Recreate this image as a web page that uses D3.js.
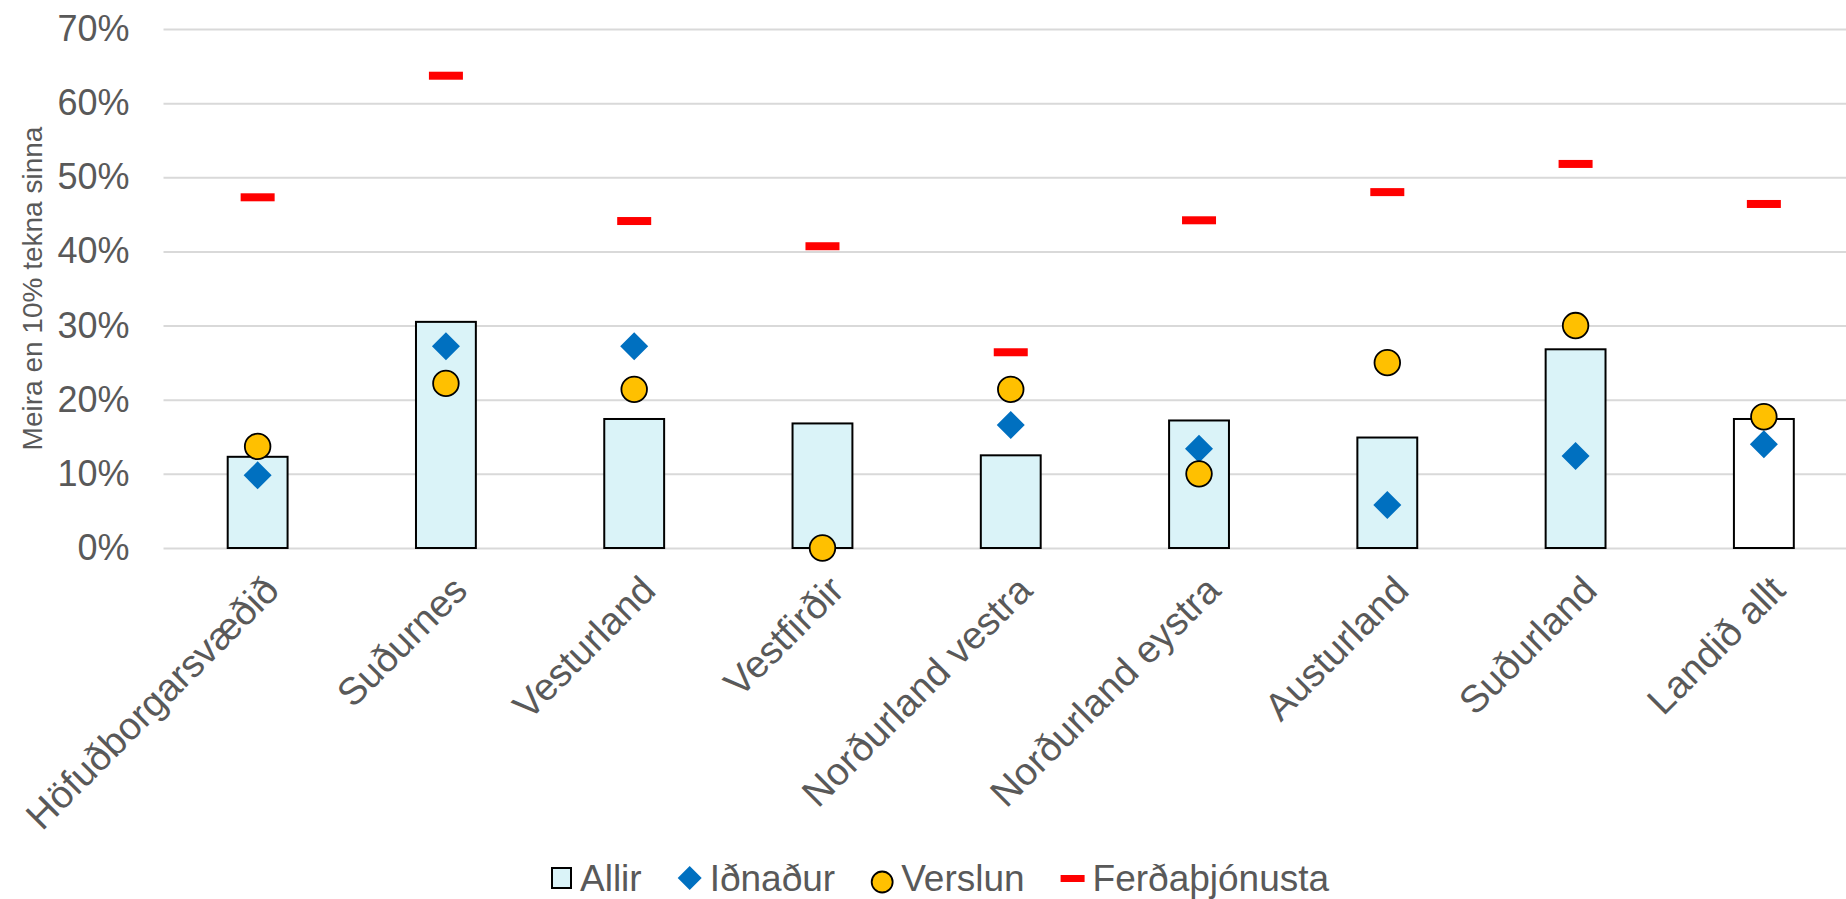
<!DOCTYPE html>
<html>
<head>
<meta charset="utf-8">
<script src="https://cdn.jsdelivr.net/npm/d3@7"></script>
<style>
body { margin: 0; background: #fff; }
text { font-family: "Liberation Sans", Arial, sans-serif; fill: #595959; }
</style>
</head>
<body>
<div id="chart"></div>
<script>
var categories = ["Höfuðborgarsvæðið", "Suðurnes", "Vesturland", "Vestfirðir", "Norðurland vestra",
                  "Norðurland eystra", "Austurland", "Suðurland", "Landið allt"];
var allir   = [12.3, 30.5, 17.4, 16.8, 12.5, 17.2, 14.9, 26.8, 17.4];
var idnadur = [9.8, 27.2, 27.2, null, 16.6, 13.4, 5.8, 12.4, 14.0];
var verslun = [13.7, 22.2, 21.4, 0, 21.4, 10.0, 25.0, 30.0, 17.7];
var ferda   = [47.3, 63.7, 44.1, 40.7, 26.4, 44.2, 48.0, 51.8, 46.4];
var yTicks  = [0, 10, 20, 30, 40, 50, 60, 70];
var seriesNames = ["Allir", "Iðnaður", "Verslun", "Ferðaþjónusta"];

var width = 1846, height = 899;
var plotLeft = 163.5, plotRight = 1858, plotTop = 29, plotBottom = 548;

var svg = d3.select("#chart").append("svg")
  .attr("width", width).attr("height", height);

var x = d3.scaleBand().domain(categories).range([plotLeft, plotRight]);
var y = d3.scaleLinear().domain([0, 70]).range([plotBottom, plotTop]);
var cx = function(i) { return x(categories[i]) + x.bandwidth() / 2; };

// gridlines
svg.append("g")
  .attr("transform", "translate(" + plotLeft + ",0)")
  .call(d3.axisLeft(y).tickValues(yTicks).tickSize(-(plotRight - plotLeft)).tickFormat(""))
  .call(function(g) {
    g.select(".domain").remove();
    g.selectAll("line").attr("stroke", "#d9d9d9").attr("stroke-width", 2);
  });

// y labels
svg.append("g")
  .attr("transform", "translate(" + plotLeft + ",0)")
  .call(d3.axisLeft(y).tickValues(yTicks).tickSize(0).tickPadding(34).tickFormat(function(d) { return d + "%"; }))
  .call(function(g) {
    g.select(".domain").remove();
    g.selectAll("text").attr("font-size", 36).attr("fill", "#595959")
      .attr("font-family", "Liberation Sans, Arial, sans-serif");
  });

svg.append("text")
  .attr("transform", "translate(42," + ((128 + 449) / 2) + ") rotate(-90)")
  .attr("text-anchor", "middle")
  .attr("font-size", 28)
  .text("Meira en 10% tekna sinna");

// x labels
svg.append("g").selectAll("text").data(categories).enter().append("text")
  .attr("transform", function(d, i) { return "translate(" + (cx(i) + 14) + ",583) rotate(-45)"; })
  .attr("text-anchor", "end")
  .attr("dy", "0.35em")
  .attr("font-size", 38.5)
  .text(function(d) { return d; });

// bars
var bw = x.bandwidth() * 0.318;
svg.append("g").selectAll("rect").data(allir).enter().append("rect")
  .attr("x", function(d, i) { return cx(i) - bw / 2; })
  .attr("y", function(d) { return y(d); })
  .attr("width", bw)
  .attr("height", function(d) { return y(0) - y(d); })
  .attr("fill", function(d, i) { return i == categories.length - 1 ? "#ffffff" : "#daf3f8"; })
  .attr("stroke", "#000").attr("stroke-width", 2);

// Iðnaður diamonds
var diamond = d3.symbol().type(d3.symbolSquare).size(392);
var idnPts = idnadur.map(function(v, i) { return { v: v, i: i }; })
  .filter(function(p) { return p.v != null; });
svg.append("g").selectAll("path").data(idnPts).enter().append("path")
  .attr("d", diamond)
  .attr("transform", function(p) { return "translate(" + cx(p.i) + "," + y(p.v) + ") rotate(45)"; })
  .attr("fill", "#0070c0");

// Verslun circles
svg.append("g").selectAll("circle").data(verslun).enter().append("circle")
  .attr("cx", function(d, i) { return cx(i); })
  .attr("cy", function(d) { return y(d); })
  .attr("r", 12.8)
  .attr("fill", "#ffc000").attr("stroke", "#000").attr("stroke-width", 1.8);

// Ferðaþjónusta dashes
svg.append("g").selectAll("rect").data(ferda).enter().append("rect")
  .attr("x", function(d, i) { return cx(i) - 17; })
  .attr("y", function(d) { return y(d) - 4; })
  .attr("width", 34).attr("height", 8)
  .attr("fill", "#ff0000");

// legend
var lg = svg.append("g");
var lx = 552, ly = 878;
seriesNames.forEach(function(name, k) {
  if (k == 0) {
    lg.append("rect").attr("x", lx).attr("y", ly - 10).attr("width", 19).attr("height", 20)
      .attr("fill", "#daf3f8").attr("stroke", "#000").attr("stroke-width", 2);
    lx += 20;
  } else if (k == 1) {
    lg.append("path").attr("d", d3.symbol().type(d3.symbolSquare).size(288))
      .attr("transform", "translate(" + (lx + 12) + "," + ly + ") rotate(45)")
      .attr("fill", "#0070c0");
    lx += 24;
  } else if (k == 2) {
    lg.append("circle").attr("cx", lx + 11).attr("cy", ly + 4).attr("r", 10.5)
      .attr("fill", "#ffc000").attr("stroke", "#000").attr("stroke-width", 1.8);
    lx += 22;
  } else {
    lg.append("rect").attr("x", lx).attr("y", ly - 3).attr("width", 24).attr("height", 7)
      .attr("fill", "#ff0000");
    lx += 24;
  }
  var t = lg.append("text").attr("x", lx + 8).attr("y", 890.5)
    .attr("font-size", 37).text(name);
  lx += 8 + t.node().getComputedTextLength() + 36;
});
</script>
</body>
</html>
